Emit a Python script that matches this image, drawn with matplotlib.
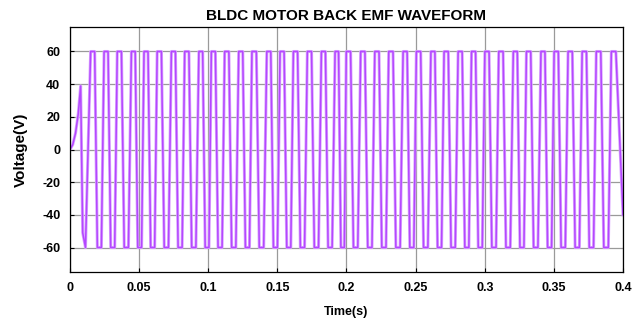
import numpy as np
import matplotlib.pyplot as plt

# =========================
# DATA
# =========================

# start-up transient before the first full pulse
startup_t = [0.0, 0.002, 0.004, 0.006, 0.0077, 0.0092, 0.0112]
startup_v = [0.0, 3.0, 10.0, 22.0, 38.9, -51.0, -60.0]

# centres of the +60 V flat tops (s)
high_centres = [
    0.0164, 0.0261, 0.0357, 0.0458, 0.0550, 0.0646, 0.0748, 0.0845, 0.0946, 0.1037,
    0.1134, 0.1235, 0.1332, 0.1438, 0.1534, 0.1631, 0.1732, 0.1833, 0.1930, 0.2014,
    0.2118, 0.2220, 0.2321, 0.2424, 0.2521, 0.2625, 0.2721, 0.2822, 0.2919, 0.3016,
    0.3117, 0.3221, 0.3317, 0.3421, 0.3517, 0.3618, 0.3720, 0.3823, 0.3932,
]

# value at the very end of the record (rising edge)
end_t = 0.4
end_v = -40.0

v_high = 60.0
v_low = -60.0

x_ticks = [0, 0.05, 0.1, 0.15, 0.2, 0.25, 0.3, 0.35, 0.4]
x_tick_labels = ["0", "0.05", "0.1", "0.15", "0.2", "0.25", "0.3", "0.35", "0.4"]
y_ticks = [-60, -40, -20, 0, 20, 40, 60]

# =========================
# BUILD TRAPEZOIDAL WAVE
# =========================

t = list(startup_t)
v = list(startup_v)

for i, c in enumerate(high_centres):
    if i + 1 < len(high_centres):
        p = high_centres[i + 1] - c
    else:
        p = c - high_centres[i - 1]
    flat = 0.3 * p
    # flat top
    t += [c - flat / 2, c + flat / 2]
    v += [v_high, v_high]
    # flat bottom half a period later
    lc = c + p / 2
    if lc + flat / 2 < end_t:
        t += [lc - flat / 2, lc + flat / 2]
        v += [v_low, v_low]

t.append(end_t)
v.append(end_v)

t = np.array(t)
v = np.array(v)

# =========================
# PLOT
# =========================

plt.rcParams["font.family"] = ["Liberation Sans", "DejaVu Sans"]
plt.rcParams["axes.unicode_minus"] = False

fig = plt.figure(figsize=(6.38, 3.26), dpi=100)
ax = fig.add_axes([0.1097, 0.1656, 0.8668, 0.7516])

# soft halo + core, like the exported scope trace
ax.plot(t, v, color="#dba6ff", lw=2.2, solid_joinstyle="round")
ax.plot(t, v, color="#b447ff", lw=1.1, solid_joinstyle="round")

ax.set_xlim(0, 0.4)
ax.set_ylim(-75, 75)
ax.set_xticks(x_ticks)
ax.set_xticklabels(x_tick_labels)
ax.set_yticks(y_ticks)

ax.grid(True, color="#9a9a9a", lw=0.9)
ax.set_axisbelow(True)
ax.tick_params(direction="in", length=3, width=0.8, labelsize=9, pad=7)
for lbl in ax.get_xticklabels() + ax.get_yticklabels():
    lbl.set_fontweight("bold")
for s in ax.spines.values():
    s.set_linewidth(0.9)

ax.set_title("BLDC MOTOR BACK EMF WAVEFORM", fontsize=11, fontweight="heavy", pad=5)
ax.set_xlabel("Time(s)", fontsize=9, fontweight="bold", labelpad=9)
ax.set_ylabel("Voltage(V)", fontsize=11, fontweight="bold", labelpad=10)

fig.savefig("out.png", dpi=100)
